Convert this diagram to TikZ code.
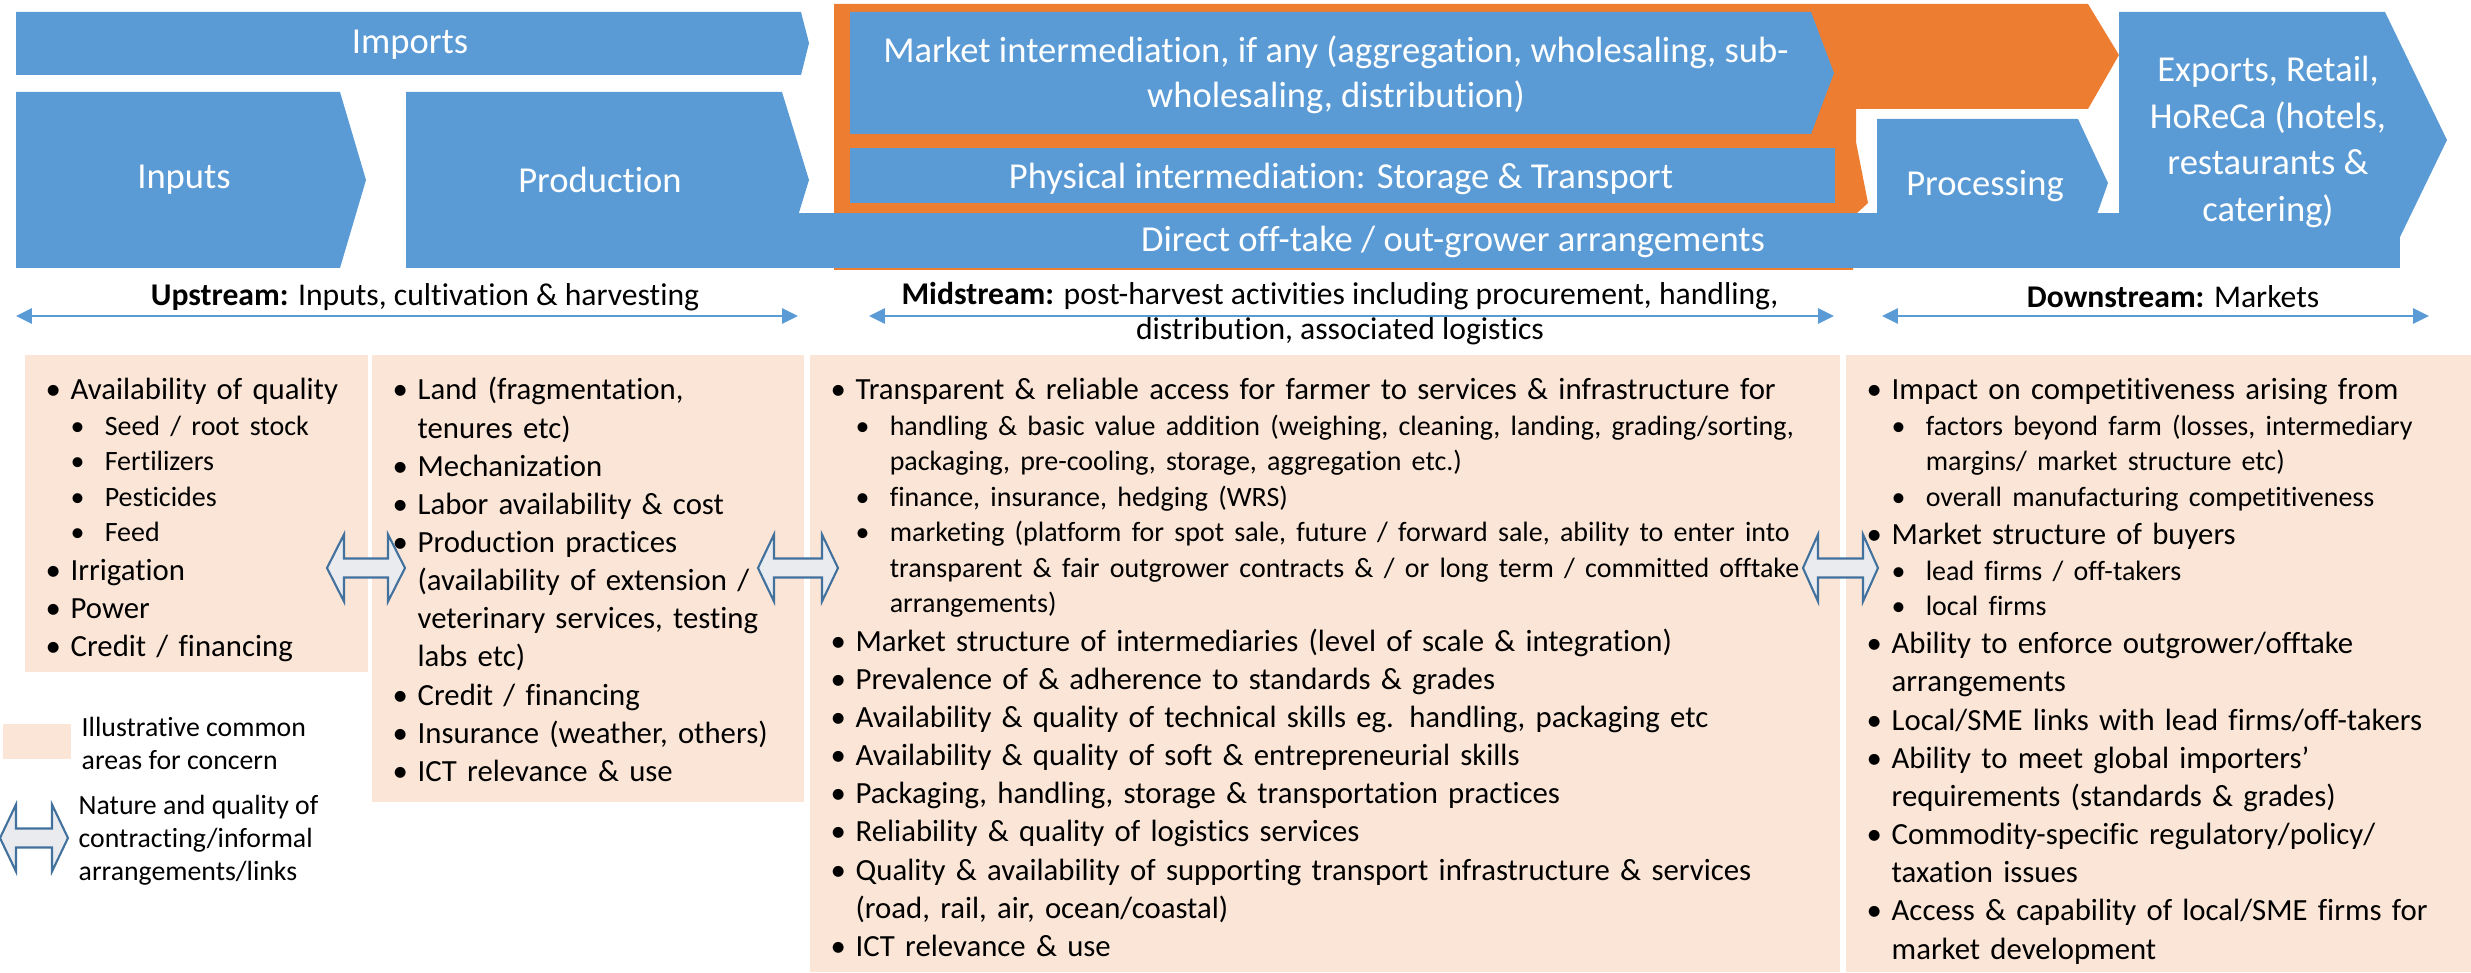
\documentclass[tikz,border=0pt]{standalone}
\usepackage{fontspec}
\setmainfont{Carlito}[Ligatures=NoCommon]
\usetikzlibrary{arrows.meta}

\definecolor{chainblue}{HTML}{5B9BD5}
\definecolor{chainorange}{HTML}{ED7D31}
\definecolor{concernpeach}{HTML}{FBE5D6}
\definecolor{linkfill}{HTML}{E9EBEF}
\definecolor{linkdraw}{HTML}{41719C}

% bullet levels, wrapped lines kept under the text
\newcommand{\bone}[1]{\par{\leftskip=7.1pt\noindent\hspace*{-7.1pt}\makebox[7.1pt][l]{\textbullet}#1\par}}
\newcommand{\btwo}[1]{\par{\fontsize{7.95}{10.1}\selectfont\leftskip=16.8pt\noindent\hspace*{-9.7pt}\makebox[9.7pt][l]{\textbullet}#1\par}}
% hollow double arrow: left x, right x, centre y, head length
\newcommand{\linkarrow}[4]{\draw[linkdraw, fill=linkfill, line width=0.6pt] (#1,#3) -- ++(#4,-33.5) -- ++(0,24) -- ({#2-#4},{#3-9.5}) -- ++(0,-24) -- (#2,#3) -- ++(-#4,33.5) -- ++(0,-24) -- ({#1+#4},{#3+9.5}) -- ++(0,24) -- cycle;}

\tikzset{
  stage/.style={fill=chainblue},
  stagetext/.style={text=white, align=center, font=\fontsize{10.4}{12.8}\selectfont},
  concern/.style={fill=concernpeach},
  concerntext/.style={anchor=north west, inner sep=0pt, text width=11cm, align=left, font=\fontsize{8.75}{10.85}\selectfont},
  streamarrow/.style={chainblue, line width=0.85pt, {Triangle[length=4.5pt,width=4.2pt]}-{Triangle[length=4.5pt,width=4.2pt]}},
  streamlabel/.style={align=center, font=\fontsize{9}{10}\selectfont},
  legendtext/.style={anchor=west, inner sep=0pt, align=left, font=\fontsize{7.9}{9.4}\selectfont}
}

\begin{document}
\begin{tikzpicture}[x=0.01cm, y=-0.01cm]
\useasboundingbox (0,0) rectangle (2471,973);

% value chain stages
\fill[stage] (16,12) -- (801,12) -- (809,43) -- (801,75) -- (16,75) -- cycle;
\fill[stage] (16,92) -- (340,92) -- (366,180) -- (340,268) -- (16,268) -- cycle;
\fill[stage] (406,92) -- (782,92) -- (809,180) -- (782,268) -- (406,268) -- cycle;
\fill[chainorange] (834,4) -- (2088,4) -- (2119,55) -- (2088,109) -- (1856,109) -- (1856,142) -- (1868,203) -- (1856,214) -- (1853,270) -- (834,270) -- cycle;
\fill[stage] (732,213) rectangle (2400,268);
\fill[stage] (850,12) -- (1811,12) -- (1834,73) -- (1811,134) -- (850,134) -- cycle;
\fill[stage] (850,148) rectangle (1835,203);
\fill[stage] (1877,119) -- (2078,119) -- (2108,183) -- (2088,240) -- (1877,240) -- cycle;
\fill[stage] (2119,12) -- (2385,12) -- (2447,140) -- (2385,268) -- (2119,268) -- cycle;

\node[stagetext] (imports) at (410,45) {Imports};
\node[stagetext] (inputs) at (184,180) {Inputs};
\node[stagetext] (production) at (600,180) {Production};
\node[stagetext] (market) at (1336,75) {Market intermediation, if any (aggregation, wholesaling, sub-\\wholesaling, distribution)};
\node[stagetext] (physical) at (1341,179) {Physical intermediation: Storage \& Transport};
\node[stagetext] (offtake) at (1453,242) {Direct off-take / out-grower arrangements};
\node[stagetext] (processing) at (1985,186) {Processing};
\node[stagetext, font=\fontsize{10.4}{13.2}\selectfont] (markets) at (2268,142) {Exports, Retail,\\HoReCa (hotels,\\restaurants \&\\catering)};

% streams
\coordinate (up-w) at (16,316);
\coordinate (up-e) at (798,316);
\coordinate (mid-w) at (869,316);
\coordinate (mid-e) at (1834,316);
\coordinate (down-w) at (1882,316);
\coordinate (down-e) at (2429,316);
\draw[streamarrow] (up-w) -- (up-e);
\draw[streamarrow] (mid-w) -- (mid-e);
\draw[streamarrow] (down-w) -- (down-e);
\node[streamlabel] (upstream) at (425,297) {\textbf{Upstream:} Inputs, cultivation \& harvesting};
\node[streamlabel] (midstream) at (1340,314) {\textbf{Midstream:} post-harvest activities including procurement, handling,\\distribution, associated logistics};
\node[streamlabel] (downstream) at (2173,297) {\textbf{Downstream:} Markets};

% areas for concern
\fill[concern] (25,355) rectangle (368,672);
\fill[concern] (372,355) rectangle (804,802);
\fill[concern] (810,355) rectangle (1840,972);
\fill[concern] (1846,355) rectangle (2471,972);

\node[concerntext] (inputs-list) at (45,361) {%
\bone{Availability of quality}
\btwo{Seed / root stock}
\btwo{Fertilizers}
\btwo{Pesticides}
\btwo{Feed}
\bone{Irrigation}
\bone{Power}
\bone{Credit / financing}};

\node[concerntext] (production-list) at (392,361) {%
\bone{Land (fragmentation,\newline tenures etc)}
\bone{Mechanization}
\bone{Labor availability \& cost}
\bone{Production practices\newline (availability of extension /\newline veterinary services, testing\newline labs etc)}
\bone{Credit / financing}
\bone{Insurance (weather, others)}
\bone{ICT relevance \& use}};

\node[concerntext] (midstream-list) at (830,361) {%
\bone{Transparent \& reliable access for farmer to services \& infrastructure for}
\btwo{handling \& basic value addition (weighing, cleaning, landing, grading/sorting,\newline packaging, pre-cooling, storage, aggregation etc.)}
\btwo{finance, insurance, hedging (WRS)}
\btwo{marketing (platform for spot sale, future / forward sale, ability to enter into\newline transparent \& fair outgrower contracts \& / or long term / committed offtake\newline arrangements)}
\bone{Market structure of intermediaries (level of scale \& integration)}
\bone{Prevalence of \& adherence to standards \& grades}
\bone{Availability \& quality of technical skills eg. handling, packaging etc}
\bone{Availability \& quality of soft \& entrepreneurial skills}
\bone{Packaging, handling, storage \& transportation practices}
\bone{Reliability \& quality of logistics services}
\bone{Quality \& availability of supporting transport infrastructure \& services\newline (road, rail, air, ocean/coastal)}
\bone{ICT relevance \& use}};

\node[concerntext] (downstream-list) at (1866,361) {%
\bone{Impact on competitiveness arising from}
\btwo{factors beyond farm (losses, intermediary\newline margins/ market structure etc)}
\btwo{overall manufacturing competitiveness}
\bone{Market structure of buyers}
\btwo{lead firms / off-takers}
\btwo{local firms}
\bone{Ability to enforce outgrower/offtake\newline arrangements}
\bone{Local/SME links with lead firms/off-takers}
\bone{Ability to meet global importers’\newline requirements (standards \& grades)}
\bone{Commodity-specific regulatory/policy/\newline taxation issues}
\bone{Access \& capability of local/SME firms for\newline market development}};

% links between stages
\linkarrow{327}{405}{568}{17}
\linkarrow{758}{838}{568}{16}
\linkarrow{1803}{1878}{568}{15}

% legend
\fill[concern] (3,724) rectangle (71,759);
\node[legendtext] (legend-concern) at (81,743) {Illustrative common\\areas for concern};
\linkarrow{0}{68}{838}{16}
\node[legendtext] (legend-link) at (78,840) {Nature and quality of\\contracting/informal\\arrangements/links};
\end{tikzpicture}
\end{document}
